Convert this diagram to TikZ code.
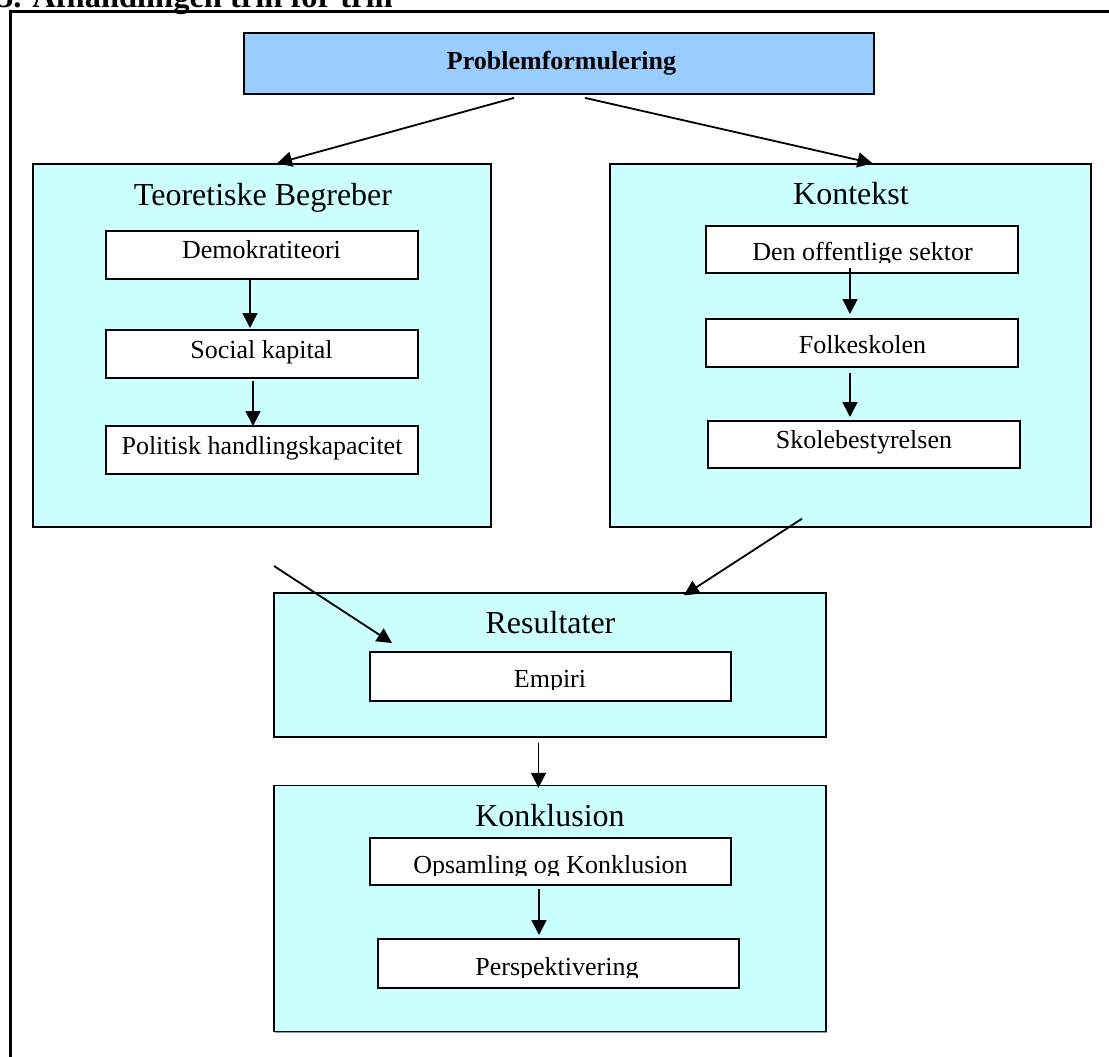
\documentclass[tikz,border=0pt]{standalone}
\usepackage{fontspec}
\setmainfont{Liberation Serif}
\usetikzlibrary{arrows.meta,calc,shadows}
\definecolor{paleCyan}{HTML}{CCFFFF}
\definecolor{probBlue}{HTML}{99CCFF}
\begin{document}
\begin{tikzpicture}[x=1pt,y=-1pt,
  bigbox/.style={draw=black, line width=1.4pt, fill=paleCyan, inner sep=0pt,
    drop shadow={shadow xshift=1.2pt, shadow yshift=-1.2pt, fill=black!40, opacity=1}},
  probbox/.style={draw=black, line width=1.8pt, fill=probBlue, inner sep=0pt,
    drop shadow={shadow xshift=1.2pt, shadow yshift=-1.2pt, fill=black!40, opacity=1}},
  itembox/.style={draw=black, line width=2pt, fill=white, inner sep=0pt},
  bigtxt/.style={anchor=base, inner sep=0pt, font=\fontsize{32}{36}\selectfont},
  itemtxt/.style={anchor=base, inner sep=0pt, font=\fontsize{26}{30}\selectfont},
  arr/.style={-{Triangle[length=15pt,width=15pt]}, line width=1.8pt}]
\useasboundingbox (0,0) rectangle (1109,1057);

% heading (cut off at the top)
\node[anchor=base west, inner sep=0pt, font=\fontsize{32.5}{36}\selectfont\bfseries] (head) at (-3,8) {3. Afhandlingen trin for trin};
% outer frame
\draw[line width=3pt] (10,1070) -- (10,12) -- (1120,12);

% problem statement
\node[probbox, minimum width=630pt, minimum height=61pt] (prob) at (559,63.5) {};
\node[anchor=base, inner sep=0pt, font=\fontsize{26}{30}\selectfont\bfseries] (probT) at (561.5,70) {Problemformulering};

% theory
\node[bigbox, minimum width=458pt, minimum height=363pt] (teo) at (262,345.5) {};
\node[bigtxt] (teoT) at (263,205) {Teoretiske Begreber};
\node[itembox, minimum width=312pt, minimum height=48pt] (demo) at (262,255) {};
\node[itemtxt] (demoT) at (261.5,258) {Demokratiteori};
\node[itembox, minimum width=312pt, minimum height=48pt] (soc) at (262,354) {};
\node[itemtxt] (socT) at (261.5,358) {Social kapital};
\node[itembox, minimum width=312pt, minimum height=48pt] (pol) at (262,450) {};
\node[itemtxt] (polT) at (262,454) {Politisk handlingskapacitet};

% context
\node[bigbox, minimum width=481pt, minimum height=363pt] (kon) at (850.5,345.5) {};
\node[bigtxt] (konT) at (851,204) {Kontekst};
\node[itembox, minimum width=312pt, minimum height=47pt] (den) at (862,249.5) {};
\begin{scope}
  \clip (600,200) rectangle (1100,262);
  \node[itemtxt] (denT) at (862.5,260) {Den offentlige sektor};
\end{scope}
\node[itembox, minimum width=312pt, minimum height=48pt] (folk) at (862,343) {};
\node[itemtxt] (folkT) at (862.5,353) {Folkeskolen};
\node[itembox, minimum width=312pt, minimum height=47pt] (skole) at (864,444.5) {};
\node[itemtxt] (skoleT) at (864,448) {Skolebestyrelsen};

% results
\node[bigbox, minimum width=552pt, minimum height=144pt] (res) at (550,665) {};
\node[bigtxt] (resT) at (550.5,633) {Resultater};
\node[itembox, minimum width=361pt, minimum height=49pt] (emp) at (550.5,676.5) {};
\begin{scope}
  \clip (370,640) rectangle (731,689);
  \node[itemtxt] (empT) at (550,687) {Empiri};
\end{scope}

% conclusion
\node[bigbox, minimum width=552pt, minimum height=246pt] (konk) at (550,908.5) {};
\node[bigtxt] (konkT) at (550,826) {Konklusion};
\node[itembox, minimum width=361pt, minimum height=47pt] (ops) at (550.5,861.5) {};
\begin{scope}
  \clip (370,830) rectangle (731,875);
  \node[itemtxt] (opsT) at (550.5,873) {Opsamling og Konklusion};
\end{scope}
\node[itembox, minimum width=361pt, minimum height=49pt] (persp) at (558.5,963.5) {};
\begin{scope}
  \clip (378,930) rectangle (739,977);
  \node[itemtxt] (perspT) at (557,975) {Perspektivering};
\end{scope}

% connectors
\coordinate (freeStart) at (274,566);
\draw[arr] ($(prob.south)+(-45,3)$) -- ($(teo.north)+(15,0)$);
\draw[arr] ($(prob.south)+(26,3)$) -- ($(kon.north)+(22,0)$);
\draw[arr] ($(demo.south)+(-12,0)$) -- ($(soc.north)+(-12,-1)$);
\draw[arr] ($(soc.south)+(-9,2)$) -- ($(pol.north)+(-9,1)$);
\draw[arr] ($(den.south)+(-12,-6)$) -- ($(folk.north)+(-12,-4)$);
\draw[arr] ($(folk.south)+(-12,5)$) -- ($(skole.north)+(-14,-3)$);
\draw[arr] ($(kon.south)+(-48.5,-9)$) -- ($(res.north)+(134,3)$);
\draw[arr] (freeStart) -- ($(emp.north west)+(23,-8)$);
\draw[arr] ($(res.south)+(-11.5,5)$) -- ($(konk.north)+(-11.5,3)$);
\draw[arr] ($(ops.south)+(-11.5,3)$) -- ($(persp.north)+(-19.5,-3)$);
\end{tikzpicture}
\end{document}
